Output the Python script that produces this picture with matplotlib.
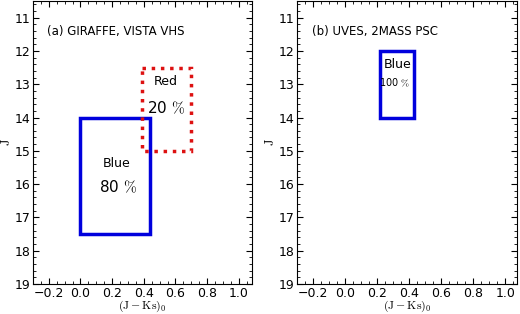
import matplotlib.pyplot as plt
from matplotlib.patches import Rectangle
from matplotlib.ticker import MultipleLocator

plt.rcParams['mathtext.fontset'] = 'cm'

# boxes: (x0, x1, J_top, J_bottom)
blue_a = (0.0, 0.44, 14.0, 17.5)
red_a = (0.39, 0.70, 12.5, 15.0)
blue_b = (0.22, 0.43, 12.0, 14.0)

titles = ['(a) GIRAFFE, VISTA VHS', '(b) UVES, 2MASS PSC']
xticks = [-0.2, 0.0, 0.2, 0.4, 0.6, 0.8, 1.0]
yticks = [11, 12, 13, 14, 15, 16, 17, 18, 19]

fig = plt.figure(figsize=(5.2, 3.14), dpi=100)
ax1 = fig.add_axes([0.0635, 0.0955, 0.4215, 0.9015])
ax2 = fig.add_axes([0.5717, 0.0955, 0.4231, 0.9015])


def box(ax, b, color, ls):
    x0, x1, y0, y1 = b
    ax.add_patch(Rectangle((x0, y0), x1 - x0, y1 - y0, fill=False,
                           edgecolor=color, linewidth=2.5, linestyle=ls))


for ax, t, xr in zip([ax1, ax2], titles, [1.085, 1.075]):
    ax.set_xlim(-0.30, xr)
    ax.set_ylim(19, 10.5)
    ax.set_xticks(xticks)
    ax.set_yticks(yticks)
    ax.xaxis.set_minor_locator(MultipleLocator(0.05))
    ax.yaxis.set_minor_locator(MultipleLocator(0.2))
    ax.tick_params(which='both', direction='in', top=True, right=True,
                   labelsize=9, pad=2)
    ax.tick_params(which='major', length=4)
    ax.tick_params(which='minor', length=2)
    ax.set_xlabel(r'$\mathrm{(J-Ks)_0}$', fontsize=8.5, labelpad=-1)
    ax.set_ylabel(r'$\mathrm{J}$', fontsize=9, labelpad=1)
    ax.text(-0.21, 11.41, t, fontsize=8.5, va='center')

box(ax1, blue_a, '#0000dd', '-')
box(ax1, red_a, '#dd1111', ':')
ax1.text(0.54, 12.92, 'Red', fontsize=9, ha='center', va='center')
ax1.text(0.54, 13.72, r'20 $\%$', fontsize=11, ha='center', va='center')
ax1.text(0.23, 15.37, 'Blue', fontsize=9, ha='center', va='center')
ax1.text(0.235, 16.08, r'80 $\%$', fontsize=11, ha='center', va='center')

box(ax2, blue_b, '#0000dd', '-')
ax2.text(0.33, 12.4, 'Blue', fontsize=9, ha='center', va='center')
ax2.text(0.31, 12.95, r'100 $\%$', fontsize=7, ha='center', va='center')

fig.savefig('out.png', dpi=100)
